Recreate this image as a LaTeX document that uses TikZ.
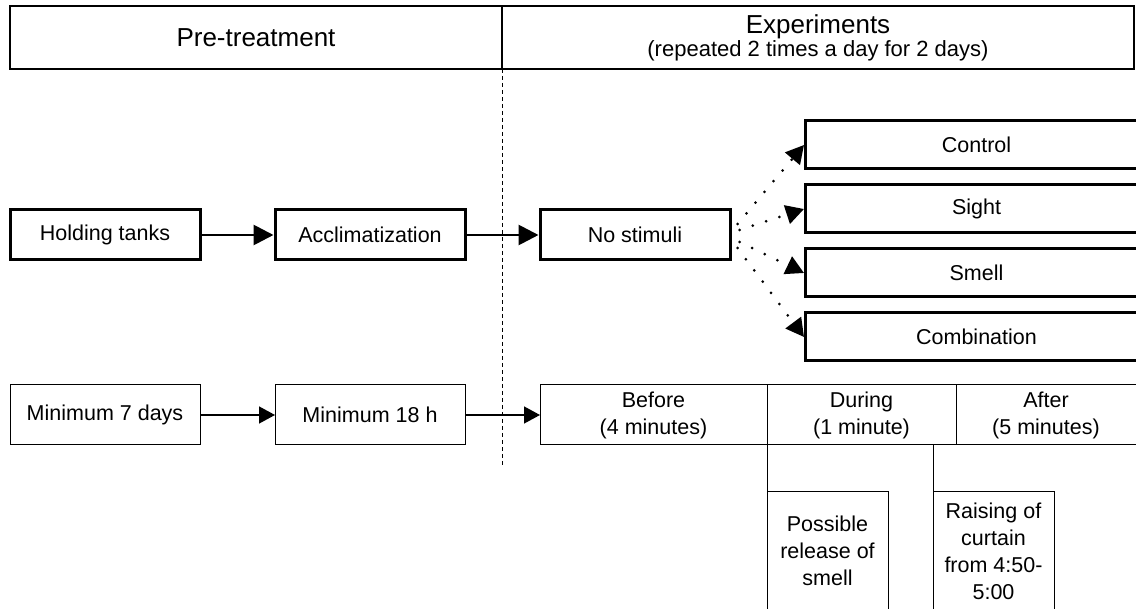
\documentclass[tikz,border=0pt]{standalone}
\usepackage{fontspec}
\setmainfont{Liberation Sans}
\usepackage{tikz}
\usetikzlibrary{arrows.meta, positioning}

\begin{document}
\begin{tikzpicture}[
  x=1pt, y=-1pt,
  node distance=72pt,
  every node/.style={font=\fontsize{21.5}{27}\selectfont, inner sep=0pt, align=center},
  stage/.style ={rectangle, draw=black, line width=3pt, minimum width=190pt, minimum height=50pt},
  option/.style={rectangle, draw=black, line width=3pt, minimum width=342pt, minimum height=48pt},
  period/.style={rectangle, draw=black, line width=1pt, outer sep=0pt, minimum height=60pt},
  note/.style  ={rectangle, draw=black, line width=1pt, outer sep=0pt, minimum width=121pt, minimum height=118pt},
  hdr/.style   ={rectangle, draw=black, line width=1.2pt, outer sep=0pt, minimum height=63pt,
                 font=\fontsize{26}{30}\selectfont},
  ar/.style    ={-{Triangle[length=20pt,width=20pt]}, line width=2.8pt},
  arthin/.style={-{Triangle[length=16pt,width=17pt]}, line width=1.5pt},
  dotar/.style ={-{Triangle[length=18pt,width=19pt]}, line width=3pt, line cap=round,
                 dash pattern=on 0pt off 14pt},
  link/.style  ={draw=black, line width=1pt},
  divider/.style={draw=black, line width=0.8pt, dash pattern=on 4pt off 3pt}
]
\useasboundingbox (0,0) rectangle (1136,609);
\clip (0,0) rectangle (1136,609);

% header
\node[hdr, minimum width=492pt] (pre) at (256,37.5) {Pre-treatment};
\node[hdr, minimum width=632pt, right=0pt of pre] (exp)
  {Experiments\\[-7pt]{\fontsize{22}{24}\selectfont (repeated 2 times a day for 2 days)}};

% stages
\node[stage] (holding) at (105,235) {Holding tanks};
\node[stage, right=of holding] (acclim) {Acclimatization};
\node[stage, right=of acclim]  (nostim) {No stimuli};

\node[option, anchor=west] (control) at (804,145) {Control};
\node[option, below=13pt of control] (sight) {Sight};
\node[option, below=13pt of sight]   (smell) {Smell};
\node[option, below=13pt of smell]   (combi) {Combination};

% durations
\node[period, minimum width=190pt] (min7) at (105,415) {Minimum 7 days};
\node[period, minimum width=190pt, right=75pt of min7] (min18) {Minimum 18 h};
\node[period, minimum width=227pt, right=75pt of min18] (before) {Before\\(4 minutes)};
\node[period, minimum width=189pt, right=0pt of before] (during) {During\\(1 minute)};
\node[period, minimum width=180pt, right=0pt of during] (after) {After\\(5 minutes)};

\node[note, below right=47pt and 0pt of during.south west] (possible) {Possible\\release of\\smell};
\node[note, right=45pt of possible] (raising) {Raising of\\curtain\\from 4:50-\\5:00};

\coordinate (divend) at (502,465);
\draw[divider] (pre.south east) -- (divend);

\draw[ar] (holding) -- (acclim);
\draw[ar] (acclim) -- (nostim);
\draw[arthin] (min7) -- (min18);
\draw[arthin] (min18) -- (before);

\draw[dotar] ([xshift=6pt,yshift=11pt]nostim.east) -- (control.west);
\draw[dotar] ([xshift=8pt,yshift=5pt]nostim.east)  -- (sight.west);
\draw[dotar] ([xshift=8pt,yshift=-7pt]nostim.east) -- (smell.west);
\draw[dotar] ([xshift=6pt,yshift=-13pt]nostim.east) -- (combi.west);

\draw[link] (during.south west) -- (possible.north west);
\draw[link] (raising.north west |- during.south) -- (raising.north west);
\end{tikzpicture}
\end{document}
